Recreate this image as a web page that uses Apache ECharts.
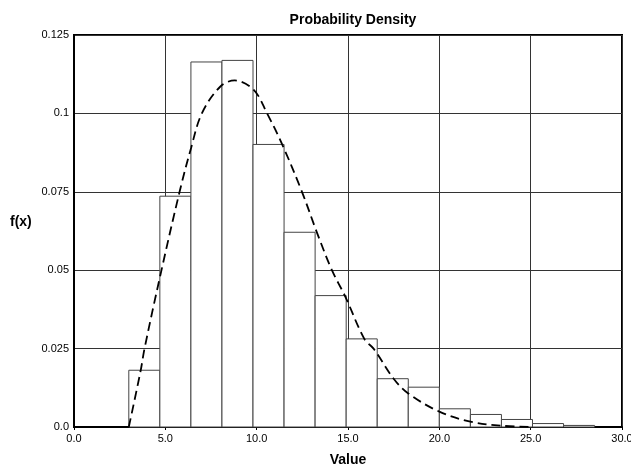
<!DOCTYPE html>
<html lang="en">

<head>
  <meta charset="UTF-8">
  <title>Probability Density</title>
  <style>
    html, body {
      margin: 0;
      padding: 0;
      background: #fff;
    }

    #chart {
      width: 631px;
      height: 468px;
    }
  </style>
</head>

<body>
  <div id="chart"></div>

  <script src="https://cdn.jsdelivr.net/npm/echarts@6/dist/echarts.min.js"></script>
  <script>
    // histogram bins (left edges, width 1.7) and density heights
    const binStart = [3.0, 4.7, 6.4, 8.1, 9.8, 11.5, 13.2, 14.9, 16.6, 18.3, 20.0, 21.7, 23.4, 25.1, 26.8];
    const binEnd = [4.7, 6.4, 8.1, 9.8, 11.5, 13.2, 14.9, 16.6, 18.3, 20.0, 21.7, 23.4, 25.1, 26.8, 28.5];
    const binDensity = [0.0181, 0.0736, 0.1164, 0.1169, 0.0901, 0.0621, 0.0419, 0.0281, 0.0154, 0.0127,
      0.0058, 0.0040, 0.0024, 0.0011, 0.0005];

    // fitted density curve
    const curveX = [3.0, 3.65, 3.86, 4.75, 5.78, 6.41, 7.0, 8.0, 8.8, 9.84, 10.57, 11.39, 12.48,
      13.3, 14.12, 14.85, 15.9, 16.4, 17.5, 18.3, 20.0, 21.7, 23.4, 25.1];
    const curveY = [0, 0.018, 0.025, 0.049, 0.075, 0.089, 0.100, 0.1085, 0.1105, 0.1075, 0.100, 0.0902, 0.075,
      0.062, 0.050, 0.0416, 0.028, 0.025, 0.0154, 0.0107, 0.0049, 0.0017, 0.0004, 0];

    const font = '"Liberation Sans", Arial, sans-serif';

    const chart = echarts.init(document.getElementById('chart'));

    const histData = binStart.map((s, i) => [s, binEnd[i], binDensity[i]]);
    const curveData = curveX.map((x, i) => [x, curveY[i]]);

    chart.setOption({
      animation: false,
      title: {
        text: 'Probability Density',
        left: 348,
        top: 8,
        textAlign: 'center',
        textStyle: { fontFamily: font, fontSize: 14, fontWeight: 'bold', color: '#000' }
      },
      graphic: [
        {
          type: 'text',
          left: 10,
          top: 215,
          style: { text: 'f(x)', fontFamily: font, fontSize: 14, fontWeight: 'bold', fill: '#000' }
        }
      ],
      grid: {
        left: 74,
        right: 9,
        top: 35,
        bottom: 41,
        containLabel: false,
        outerBoundsMode: 'none',
        show: true,
        borderColor: '#000',
        borderWidth: 2
      },
      xAxis: {
        type: 'value',
        min: 0,
        max: 30,
        interval: 5,
        name: 'Value',
        nameLocation: 'middle',
        nameGap: 26,
        nameTextStyle: { fontFamily: font, fontSize: 14, fontWeight: 'bold', color: '#000' },
        axisLine: { show: true, lineStyle: { color: '#000', width: 2 } },
        axisTick: { show: true, length: 3, lineStyle: { color: '#000' } },
        axisLabel: {
          fontFamily: font, fontSize: 11, color: '#000', margin: 6,
          formatter: v => v.toFixed(1)
        },
        splitLine: { show: true, lineStyle: { color: '#333', width: 1 } }
      },
      yAxis: {
        type: 'value',
        min: 0,
        max: 0.125,
        interval: 0.025,
        axisLine: { show: true, lineStyle: { color: '#000', width: 2 } },
        axisTick: { show: false },
        axisLabel: {
          fontFamily: font, fontSize: 11, color: '#000', margin: 5,
          formatter: v => v === 0 ? '0.0' : String(parseFloat(v.toFixed(3)))
        },
        splitLine: { show: true, lineStyle: { color: '#333', width: 1 } }
      },
      series: [
        {
          type: 'custom',
          name: 'histogram',
          data: histData,
          encode: { x: [0, 1], y: 2 },
          renderItem: (params, api) => {
            const p0 = api.coord([api.value(0), api.value(2)]);
            const p1 = api.coord([api.value(1), 0]);
            return {
              type: 'rect',
              shape: { x: p0[0], y: p0[1], width: p1[0] - p0[0], height: p1[1] - p0[1] },
              style: { fill: '#fff', stroke: '#444', lineWidth: 1 }
            };
          },
          z: 2
        },
        {
          type: 'line',
          name: 'density',
          data: curveData,
          smooth: 0.35,
          showSymbol: false,
          symbol: 'none',
          lineStyle: { color: '#000', width: 1.8, type: [9, 5] },
          z: 3
        }
      ]
    });
  </script>
</body>

</html>
